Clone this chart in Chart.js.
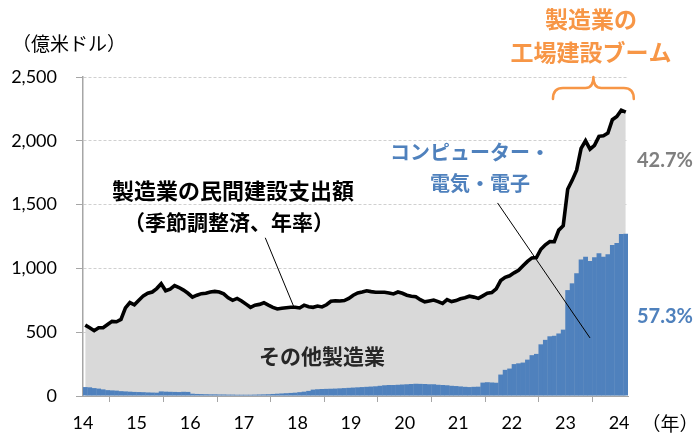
<!DOCTYPE html>
<html>
<head>
<meta charset="utf-8">
<script src="https://cdn.jsdelivr.net/npm/chart.js@4.4.1/dist/chart.umd.min.js"></script>
<style>
  html, body { margin: 0; padding: 0; background: #fff; }
</style>
</head>
<body>
<canvas id="chart" width="697" height="436"></canvas>
<script>
// monthly, Jan 2014 .. Feb 2024 (億米ドル, 季節調整済・年率)
const firstYear = 14;
const yearTicks = [0, 12, 24, 36, 48, 60, 72, 84, 96, 108, 120]; // months from Jan 2014
const yTicks = [0, 500, 1000, 1500, 2000, 2500];

// 製造業の民間建設支出額 (total)
const totalSpend = [
  555, 535, 512, 535, 535, 560, 585, 582, 600, 690, 732, 715,      // 2014
  750, 785, 805, 815, 842, 880, 825, 838, 865, 850, 830, 805,      // 2015
  775, 790, 802, 805, 815, 820, 815, 800, 770, 750, 765, 745,      // 2016
  720, 695, 712, 718, 731, 712, 695, 682, 688, 692, 695, 695,      // 2017
  690, 712, 700, 695, 705, 698, 715, 742, 747, 745, 748, 765,      // 2018
  790, 808, 815, 825, 818, 813, 813, 813, 808, 800, 815, 805,      // 2019
  790, 782, 778, 755, 738, 745, 752, 740, 726, 755, 740, 748,      // 2020
  762, 770, 782, 775, 765, 785, 805, 810, 840, 905, 930, 942,      // 2021
  965, 985, 1020, 1055, 1082, 1085, 1150, 1185, 1210, 1209, 1300, 1335, // 2022
  1620, 1690, 1770, 1940, 2000, 1935, 1965, 2035, 2040, 2060, 2165, 2190, // 2023
  2240, 2225                                                       // 2024
];

// コンピューター・電気・電子
const computerElec = [
  70, 68, 62, 58, 52, 46, 44, 42, 38, 36, 34, 32,
  31, 30, 28, 27, 26, 36, 34, 33, 32, 31, 33, 32,
  18, 16, 15, 14, 13, 13, 12, 12, 11, 11, 10, 10,
  10, 10, 11, 12, 13, 14, 16, 18, 20, 22, 24, 26,
  30, 34, 40, 50, 53, 55, 56, 57, 58, 60, 62, 64,
  66, 68, 70, 72, 74, 76, 80, 84, 86, 86, 88, 90,
  92, 94, 96, 95, 94, 92, 92, 88, 86, 84, 80, 78,
  75, 72, 70, 72, 73, 105, 108, 106, 104, 168, 205, 215,
  250, 256, 262, 285, 320, 330, 405, 440, 468, 472, 490, 520,
  830, 883, 962, 1070, 1092, 1058, 1087, 1118, 1092, 1110, 1183, 1200,
  1270, 1272
];

const shareOther = '42.7%';
const shareComputer = '57.3%';

// leader lines in data units [month, value] -> [month, value]
const leaderTotal = [[40.8, 1240], [47.3, 690]];
const leaderComputer = [[92.8, 1513], [113.5, 455]];
// brace over the boom period (months)
const braceFrom = 105.2;
const braceTo = 123.3;

const BLUE = '#4f81bd';
const ORANGE = '#f79646';
const JP = "'Noto Sans CJK JP', 'Noto Sans', sans-serif";
const NUM = "Lato, 'Noto Sans', sans-serif";

const texts = [
  { t: '（億米ドル）', x: 69, y: 44, font: `19px ${JP}`, color: '#000', align: 'center' },
  { t: '（年）', x: 670, y: 424, font: `19px ${JP}`, color: '#000', align: 'center' },
  { t: '製造業の民間建設支出額', x: 233, y: 191, font: `bold 22px ${JP}`, color: '#000', align: 'center' },
  { t: '（季節調整済、年率）', x: 229, y: 222, font: `bold 21px ${JP}`, color: '#000', align: 'center' },
  { t: 'その他製造業', x: 322, y: 356, font: `bold 21px ${JP}`, color: '#262626', align: 'center' },
  { t: 'コンピューター・', x: 470, y: 152, font: `bold 20px ${JP}`, color: BLUE, align: 'center' },
  { t: '電気・電子', x: 480, y: 183, font: `bold 20px ${JP}`, color: BLUE, align: 'center' },
  { t: shareOther, x: 637, y: 161, font: `bold 20px ${NUM}`, color: '#7f7f7f', align: 'left' },
  { t: shareComputer, x: 637, y: 317, font: `bold 20px ${NUM}`, color: BLUE, align: 'left' },
  { t: '製造業の', x: 591, y: 19, font: `bold 23px ${JP}`, color: ORANGE, align: 'center' },
  { t: '工場建設ブーム', x: 591, y: 52, font: `bold 23px ${JP}`, color: ORANGE, align: 'center' }
];

const notes = {
  id: 'notes',
  afterDatasetsDraw(chart) {
    const { ctx, scales: { x, y } } = chart;
    ctx.save();
    ctx.strokeStyle = '#000';
    ctx.lineWidth = 1;
    [leaderTotal, leaderComputer].forEach(l => {
      ctx.beginPath();
      ctx.moveTo(x.getPixelForValue(l[0][0]), y.getPixelForValue(l[0][1]));
      ctx.lineTo(x.getPixelForValue(l[1][0]), y.getPixelForValue(l[1][1]));
      ctx.stroke();
    });

    texts.forEach(s => {
      ctx.font = s.font;
      ctx.fillStyle = s.color;
      ctx.textAlign = s.align;
      ctx.textBaseline = 'middle';
      ctx.fillText(s.t, s.x, s.y);
    });

    // curly brace
    const x0 = x.getPixelForValue(braceFrom);
    const x1 = x.getPixelForValue(braceTo);
    const xm = (x0 + x1) / 2;
    const top = y.getPixelForValue(2500);
    const mid = top + 11, bot = top + 22;
    ctx.strokeStyle = ORANGE;
    ctx.lineWidth = 2.5;
    ctx.lineCap = 'round';
    ctx.lineJoin = 'round';
    ctx.beginPath();
    ctx.moveTo(x0, bot);
    ctx.quadraticCurveTo(x0, mid, x0 + 10, mid);
    ctx.lineTo(xm - 8, mid);
    ctx.quadraticCurveTo(xm, mid, xm, top);
    ctx.quadraticCurveTo(xm, mid, xm + 8, mid);
    ctx.lineTo(x1 - 10, mid);
    ctx.quadraticCurveTo(x1, mid, x1, bot);
    ctx.stroke();
    ctx.restore();
  }
};

const ctx = document.getElementById('chart').getContext('2d');
new Chart(ctx, {
  data: {
    datasets: [
      {
        type: 'bar',
        label: 'コンピューター・電気・電子',
        data: computerElec.map((v, i) => ({ x: i + 0.5, y: v })),
        backgroundColor: BLUE,
        borderWidth: 0,
        barPercentage: 1.08,
        categoryPercentage: 1,
        order: 1
      },
      {
        type: 'line',
        label: '製造業の民間建設支出額',
        data: totalSpend.map((v, i) => ({ x: i + 0.5, y: v })),
        borderColor: '#000',
        borderWidth: 3.6,
        backgroundColor: '#d9d9d9',
        fill: 'origin',
        pointRadius: 0,
        tension: 0,
        order: 2
      }
    ]
  },
  options: {
    responsive: false,
    devicePixelRatio: 1,
    animation: false,
    layout: { padding: { left: 0, right: 69, top: 77, bottom: 0 } },
    plugins: {
      legend: { display: false },
      tooltip: { enabled: false }
    },
    scales: {
      x: {
        type: 'linear',
        min: 0,
        max: totalSpend.length,
        offset: false,
        afterBuildTicks: s => { s.ticks = yearTicks.map(v => ({ value: v })); },
        afterFit: s => { s.height = 40; },
        ticks: {
          callback: v => String(firstYear + v / 12),
          font: { family: NUM, size: 18 },
          color: '#000',
          padding: 10,
          maxRotation: 0,
          autoSkip: false
        },
        grid: { display: true, drawOnChartArea: false, drawTicks: true, tickLength: 6, color: '#a6a6a6' },
        border: { display: true, color: '#a6a6a6', width: 1 }
      },
      y: {
        min: 0,
        max: 2500,
        afterBuildTicks: s => { s.ticks = yTicks.map(v => ({ value: v })); },
        afterFit: s => { s.width = 83; },
        ticks: {
          callback: v => v.toLocaleString('en-US'),
          font: { family: NUM, size: 18 },
          color: '#000',
          padding: 19
        },
        grid: { color: '#d0d0d0', lineWidth: 1, tickLength: 7, tickColor: '#a6a6a6', tickBorderDash: [] },
        border: { display: true, color: '#a6a6a6', width: 1.5, dash: [3, 2] }
      }
    }
  },
  plugins: [notes]
});
</script>
</body>
</html>
